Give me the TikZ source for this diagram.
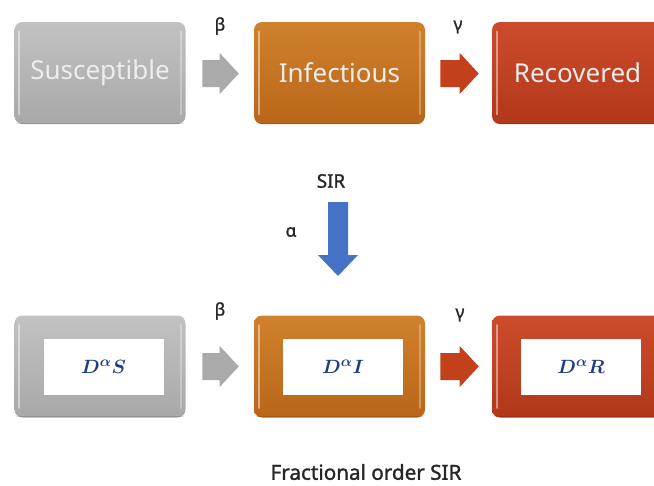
\documentclass[tikz,border=0pt]{standalone}
\usepackage{fontspec}
\setmainfont{Noto Sans}
\newfontfamily\lblfont{Noto Sans}[FakeBold=1.4]
\usepackage{amsmath,bm}
\usetikzlibrary{calc}
\definecolor{gtop}{HTML}{C2C2C2}
\definecolor{gbot}{HTML}{A8A8A8}
\definecolor{otop}{HTML}{D0812C}
\definecolor{obot}{HTML}{B9661A}
\definecolor{rtop}{HTML}{CC4C2C}
\definecolor{rbot}{HTML}{B2381A}
\definecolor{garrow}{HTML}{AAAAAA}
\definecolor{rarrow}{HTML}{C2401A}
\definecolor{barrow}{HTML}{4472C4}
\definecolor{boxtext}{HTML}{EDEDED}
\definecolor{mathblue}{HTML}{1F3C88}
\newcommand\hblk[3]{\fill[#1] ($(#2)+(0,-13.5)$) -- ($(#3)+(-19,-13.5)$) -- ($(#3)+(-19,-20.5)$) -- (#3) -- ($(#3)+(-19,20.5)$) -- ($(#3)+(-19,13.5)$) -- ($(#2)+(0,13.5)$) -- cycle;}
\newcommand\bevel[1]{%
  \draw[white,opacity=0.45,line width=1.6pt,line cap=round] ($(#1.north west)+(5,10)$) -- ($(#1.south west)+(5,-10)$);
  \draw[white,opacity=0.3,line width=1.6pt,line cap=round] ($(#1.north east)+(-5,10)$) -- ($(#1.south east)+(-5,-10)$);
  \draw[black,opacity=0.12,line width=1pt,rounded corners=6pt] ($(#1.south west)+(2,-1)$) -- ($(#1.south east)+(-2,-1)$);}
\begin{document}
\begin{tikzpicture}[x=0.75pt,y=-0.75pt,
  box/.style={rounded corners=6pt,minimum width=128.25pt,minimum height=76.5pt,inner sep=0pt,text=boxtext,font=\fontsize{19.5}{22}\selectfont},
  innerbox/.style={fill=white,minimum width=90pt,minimum height=42pt,inner sep=0pt,text=mathblue,font=\fontsize{15}{17}\selectfont\boldmath},
  lbl/.style={font=\fontsize{13}{15}\selectfont\lblfont,text=black!85,inner sep=0pt}]
\useasboundingbox (0,0) rectangle (654,486);
\clip (0,0) rectangle (654,486);
% top row
\node[box,top color=gtop,bottom color=gbot] (S) at (100,73) {Susceptible};
\node[box,top color=otop,bottom color=obot] (I) at (339.5,73) {Infectious};
\node[box,top color=rtop,bottom color=rbot] (R) at (577.5,73) {Recovered};
\bevel{S}\bevel{I}\bevel{R}
% bottom row
\node[box,top color=gtop,bottom color=gbot] (S2) at (100,366.5) {};
\node[box,top color=otop,bottom color=obot] (I2) at (339.5,366.5) {};
\node[box,top color=rtop,bottom color=rbot] (R2) at (577.5,366.5) {};
\bevel{S2}\bevel{I2}\bevel{R2}
\node[innerbox] (S2i) at ($(S2)+(3.5,0)$) {$D^{\alpha}S$};
\node[innerbox] (I2i) at ($(I2)+(3.5,0)$) {$D^{\alpha}I$};
\node[innerbox] (R2i) at ($(R2)+(3.5,0)$) {$D^{\alpha}R$};
% block arrows
\coordinate (a1s) at ($(S.east)+(16.5,0.5)$);
\coordinate (a1e) at ($(I.west)+(-15,0.5)$);
\coordinate (a2s) at ($(I.east)+(15,0.5)$);
\coordinate (a2e) at ($(R.west)+(-13,0.5)$);
\coordinate (a3s) at ($(S2.east)+(16.5,0)$);
\coordinate (a3e) at ($(I2.west)+(-15,0)$);
\coordinate (a4s) at ($(I2.east)+(15,0)$);
\coordinate (a4e) at ($(R2.west)+(-13,0)$);
\hblk{garrow}{a1s}{a1e}
\hblk{rarrow}{a2s}{a2e}
\hblk{garrow}{a3s}{a3e}
\hblk{rarrow}{a4s}{a4e}
% labels
\node[lbl] (b1) at (220,26) {β};
\node[lbl] (g1) at (458,27) {γ};
\node[lbl] (b2) at (220,311) {β};
\node[lbl] (g2) at (460,315) {γ};
\node[lbl,font=\fontsize{14}{16}\selectfont\lblfont] (sir) at (331,181) {SIR};
\node[lbl] (al) at (291,232) {α};
% blue arrow
\coordinate (v1) at (338,202);
\coordinate (v2) at (338,276);
\fill[barrow] ($(v1)+(-10,0)$) -- ($(v1)+(10,0)$) -- ($(v2)+(10,-21)$) -- ($(v2)+(20,-21)$) -- (v2) -- ($(v2)+(-20,-21)$) -- ($(v2)+(-10,-21)$) -- cycle;
\node[lbl,font=\fontsize{15.5}{18}\selectfont\lblfont] (cap) at (366,472) {Fractional order SIR};
\end{tikzpicture}
\end{document}
